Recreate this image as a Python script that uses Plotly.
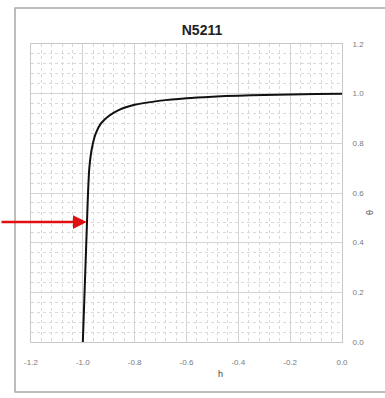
import plotly.graph_objects as go

# Pressure head h and relative value along the retention curve
h = [-1.0, -0.995, -0.99, -0.985, -0.98, -0.975, -0.965, -0.95, -0.93, -0.9,
     -0.86, -0.8, -0.7, -0.6, -0.5, -0.4, -0.3, -0.2, -0.1, 0.0]
se = [0.0, 0.15, 0.3, 0.45, 0.6, 0.7, 0.78, 0.84, 0.88, 0.91,
      0.935, 0.955, 0.972, 0.982, 0.988, 0.992, 0.995, 0.997, 0.999, 1.0]

x_ticks = [-1.2, -1.0, -0.8, -0.6, -0.4, -0.2, 0.0]
y_ticks = [0.0, 0.2, 0.4, 0.6, 0.8, 1.0, 1.2]

# point marked by the red arrow
mark_h, mark_se = -0.985, 0.483

fig = go.Figure()
fig.add_trace(go.Scatter(x=h, y=se, mode="lines",
                         line=dict(color="#111111", width=2, shape="spline", smoothing=0.6),
                         showlegend=False, hoverinfo="skip"))

tick_font = dict(family="Liberation Sans, Arial, sans-serif", size=8, color="#7a7a7a")

fig.update_layout(
    width=385, height=398,
    margin=dict(l=31, r=43, t=44, b=56),
    paper_bgcolor="white", plot_bgcolor="white",
    title=dict(text="<b>N5211</b>", x=202 / 385, xanchor="center", y=1 - 30 / 398, yanchor="middle",
               font=dict(family="Liberation Sans, Arial, sans-serif", size=14, color="#222222")),
    xaxis=dict(range=[-1.2, 0.0], tickvals=x_ticks, ticktext=[f"{v:.1f}" for v in x_ticks],
               showgrid=True, gridcolor="#d4d4d4", gridwidth=1,
               minor=dict(dtick=0.04, showgrid=True, gridcolor="#d9d9d9", griddash="dot"),
               showline=True, linecolor="#c8c8c8", mirror=True, zeroline=False,
               ticks="", tickfont=tick_font, ticklabelstandoff=12),
    yaxis=dict(range=[0.0, 1.2], tickvals=y_ticks, ticktext=[f"{v:.1f}" for v in y_ticks],
               side="right", showgrid=True, gridcolor="#d4d4d4", gridwidth=1,
               minor=dict(dtick=0.04, showgrid=True, gridcolor="#d9d9d9", griddash="dot"),
               showline=True, linecolor="#c8c8c8", mirror=True, zeroline=False,
               ticks="", tickfont=tick_font, ticklabelstandoff=8),
)

# outer chart border
fig.add_shape(type="rect", xref="paper", yref="paper",
              x0=(15 - 31) / 311, x1=(390 - 31) / 311,
              y0=(342 - 392) / 298, y1=(342 - 8) / 298,
              line=dict(color="#a8a8a8", width=1.5), fillcolor="rgba(0,0,0,0)", layer="below")

# axis titles
fig.add_annotation(text="h", xref="paper", yref="paper", x=(220 - 31) / 311, y=(342 - 381) / 298,
                   showarrow=False, font=dict(family="Liberation Sans, Arial, sans-serif", size=9, color="#444444"))
fig.add_annotation(text="θ", xref="paper", yref="paper", x=(377 - 31) / 311, y=(342 - 213) / 298,
                   textangle=-90, showarrow=False,
                   font=dict(family="Liberation Sans, Arial, sans-serif", size=9, color="#444444"))

# red arrow pointing at the curve
fig.add_annotation(x=mark_h, y=mark_se, xref="x", yref="y", ax=-90, ay=0, text="",
                   showarrow=True, arrowhead=2, arrowsize=1.1, arrowwidth=2.5, arrowcolor="#e01010")

fig.write_html("out.html")
